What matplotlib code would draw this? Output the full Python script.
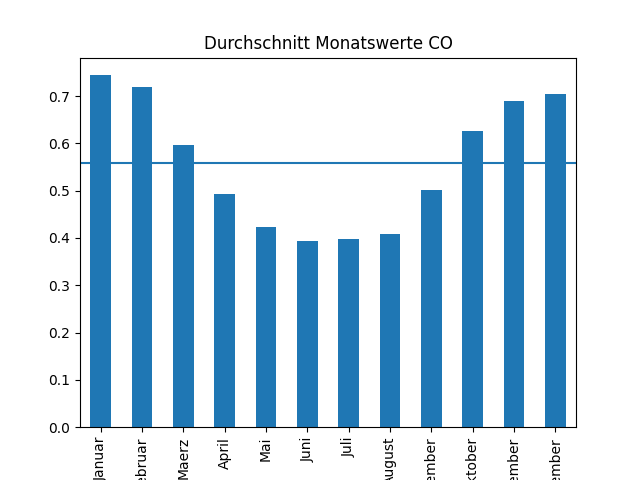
import matplotlib
matplotlib.use("Agg")
import matplotlib.pyplot as plt
import numpy as np

months = ["Januar", "Februar", "Maerz", "April", "Mai", "Juni", "Juli",
          "August", "September", "Oktober", "November", "Dezember"]
values = [0.744, 0.719, 0.596, 0.493, 0.423, 0.393, 0.397, 0.408,
          0.501, 0.626, 0.689, 0.704]
mean_value = float(np.mean(values))

fig, ax = plt.subplots(figsize=(6.4, 4.8), dpi=100)
x = np.arange(len(months))
ax.bar(x, values, width=0.5, color="#1f77b4")
ax.set_xlim(-0.5, len(months) - 0.5)
ax.set_xticks(x)
ax.set_xticklabels(months, rotation=90)
ax.axhline(mean_value, color="#1f77b4")
ax.set_title("Durchschnitt Monatswerte CO")
fig.savefig("out.png", dpi=100)
